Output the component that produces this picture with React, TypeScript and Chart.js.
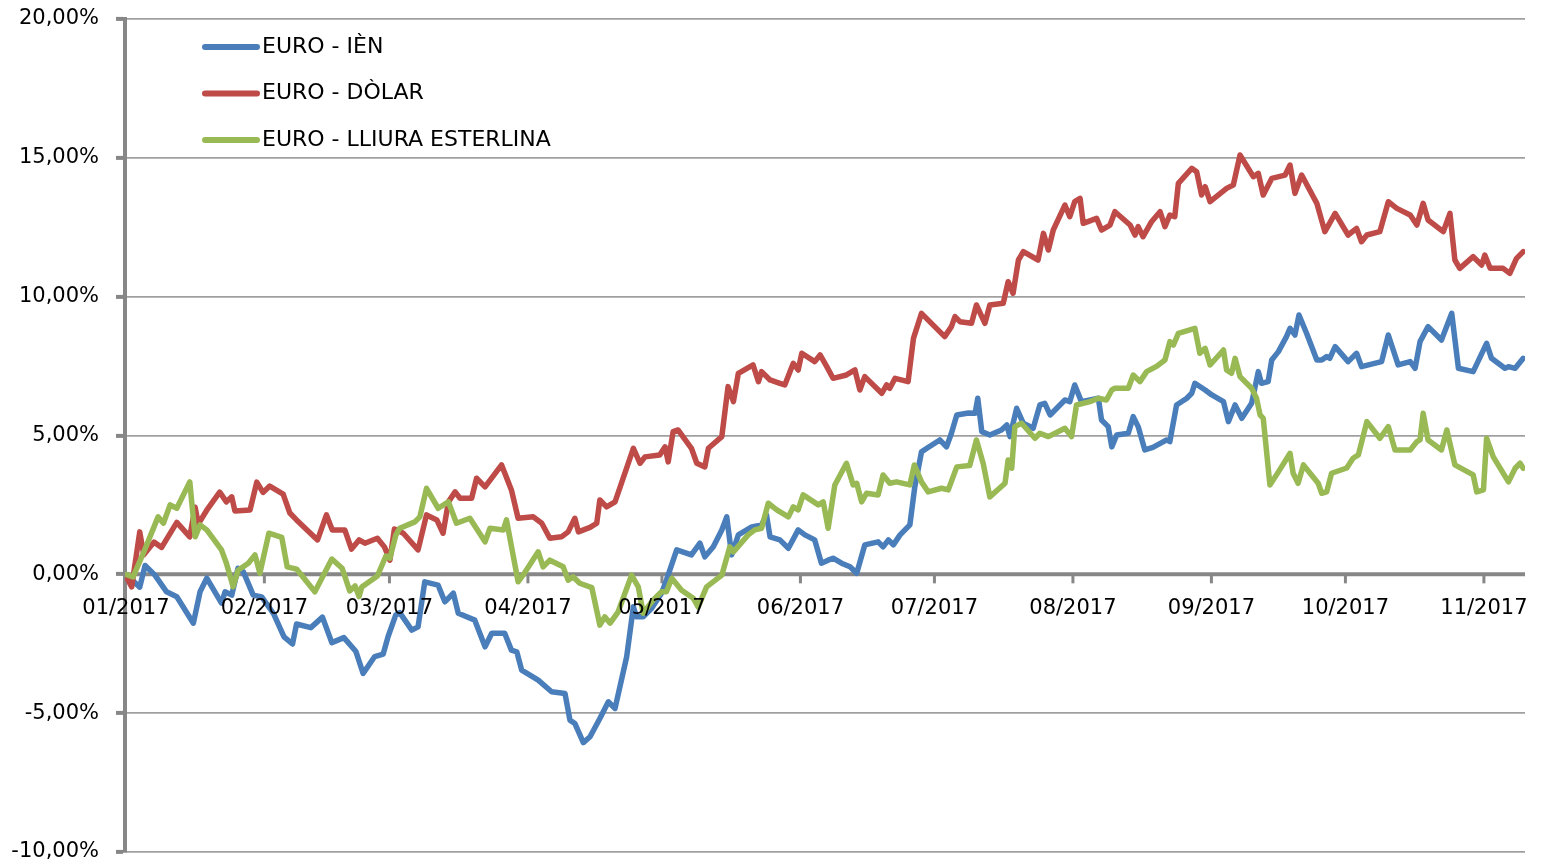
import { useEffect, useRef } from "react";
import { Chart, registerables } from "chart.js";

Chart.register(...registerables);

// Day of year 2017 (0 = 1 January) at each month start, and their labels
const monthStarts = [0, 31, 59, 90, 120, 151, 181, 212, 243, 273, 304];
const monthLabels = ["01/2017", "02/2017", "03/2017", "04/2017", "05/2017", "06/2017", "07/2017", "08/2017", "09/2017", "10/2017", "11/2017"];
const yTicks = [-10, -5, 0, 5, 10, 15, 20];

const seriesNames = ["EURO - IÈN", "EURO - DÒLAR", "EURO - LLIURA ESTERLINA"];
const seriesColors = ["#4a7ebb", "#be4b48", "#98b954"];

// EURO - IÈN (day of year, % change)
const yenDays = [
  0, 3.1, 4.3, 6.5, 9.1, 11.4, 15.1, 16.6, 18.1, 21.4,
  22.2, 23.7, 25.1, 26.3, 28.5, 30.4, 33.1, 35.4, 37.3, 38.2,
  41.4, 44.0, 46.1, 48.8, 51.5, 53.1, 55.7, 57.6, 58.7, 60.4,
  61.3, 64.0, 65.4, 66.9, 69.9, 71.4, 73.3, 74.4, 78.1, 80.4,
  81.9, 84.8, 86.3, 87.5, 88.6, 92.3, 95.3, 98.3, 99.4, 100.5,
  102.4, 103.9, 106.1, 108.0, 109.5, 112.1, 113.6, 114.3, 115.8, 117.7,
  119.9, 121.0, 123.3, 126.6, 128.5, 129.6, 131.5, 133.4, 134.5, 135.6,
  137.1, 140.1, 142.3, 143.4, 144.2, 146.4, 148.3, 150.5, 152.0, 154.2,
  155.7, 157.2, 158.3, 160.2, 162.1, 163.6, 165.4, 168.4, 169.5, 170.7,
  171.8, 173.3, 175.5, 176.6, 178.1, 179.3, 182.2, 183.7, 184.8, 186.0,
  188.6, 190.1, 190.7, 191.6, 193.4, 196.0, 197.2, 197.9, 199.4, 200.9,
  203.1, 204.6, 205.7, 206.9, 210.2, 211.3, 212.4, 213.9, 217.7, 218.4,
  219.9, 220.7, 221.8, 224.4, 225.5, 226.6, 228.1, 229.9, 233.0, 233.7,
  235.2, 237.5, 238.6, 239.3, 241.6, 243.1, 245.7, 246.8, 248.3, 249.8,
  252.0, 253.5, 254.2, 255.7, 256.5, 258.0, 259.8, 260.6, 261.7, 262.6,
  264.3, 266.6, 267.7, 268.8, 269.5, 270.7, 273.6, 275.5, 276.6, 281.1,
  282.6, 284.8, 287.5, 288.6, 289.7, 291.5, 294.5, 296.8, 298.3, 301.6,
  304.6, 305.7, 308.7, 309.5, 311.0, 312.8,
];
const yenValues = [
  0, -0.46, 0.32, -0.03, -0.63, -0.81, -1.76, -0.63, -0.14, -1.04,
  -0.63, -0.75, 0.22, 0.09, -0.75, -0.81, -1.43, -2.25, -2.51, -1.79,
  -1.92, -1.54, -2.46, -2.28, -2.78, -3.57, -2.96, -2.87, -2.24, -1.47,
  -1.38, -2.01, -1.89, -0.27, -0.39, -0.99, -0.68, -1.40, -1.65, -2.61,
  -2.12, -2.12, -2.73, -2.79, -3.45, -3.81, -4.23, -4.29, -5.25, -5.37,
  -6.06, -5.85, -5.19, -4.59, -4.83, -2.97, -1.17, -1.53, -1.53, -1.22,
  -0.68, -0.21, 0.88, 0.70, 1.12, 0.63, 0.99, 1.60, 2.07, 0.70,
  1.42, 1.71, 1.78, 2.14, 1.35, 1.24, 0.94, 1.60, 1.42, 1.24,
  0.40, 0.51, 0.58, 0.40, 0.27, 0.04, 1.06, 1.17, 0.99, 1.24,
  1.06, 1.42, 1.78, 3.15, 4.41, 4.54, 4.84, 4.59, 5.08, 5.74,
  5.81, 5.80, 6.34, 5.14, 5.02, 5.20, 5.38, 4.96, 5.98, 5.44,
  5.26, 6.10, 6.16, 5.74, 6.28, 6.22, 6.82, 6.22, 6.34, 5.56,
  5.32, 4.59, 5.02, 5.08, 5.68, 5.32, 4.48, 4.57, 4.84, 4.78,
  6.10, 6.34, 6.52, 6.88, 6.64, 6.46, 6.22, 5.50, 6.10, 5.62,
  6.16, 7.30, 6.88, 6.94, 7.72, 8.02, 8.56, 8.86, 8.62, 9.34,
  8.68, 7.72, 7.72, 7.84, 7.78, 8.20, 7.66, 7.96, 7.48, 7.66,
  8.62, 7.54, 7.66, 7.42, 8.38, 8.92, 8.44, 9.40, 7.42, 7.30,
  8.32, 7.78, 7.42, 7.48, 7.42, 7.78,
];

// EURO - DÒLAR
const usdDays = [
  0, 1.3, 3.1, 4.0, 6.3, 8.0, 11.4, 14.3, 15.5, 16.2,
  18.1, 21.0, 22.5, 23.7, 24.4, 27.8, 29.3, 30.7, 32.2, 35.2,
  36.7, 38.2, 42.9, 44.9, 46.2, 49.0, 50.5, 52.2, 53.5, 56.3,
  57.9, 59.1, 60.1, 62.1, 65.4, 67.3, 69.6, 71.0, 72.2, 73.7,
  74.8, 77.4, 78.5, 80.4, 84.1, 86.3, 87.8, 91.2, 93.1, 94.9,
  97.5, 99.0, 100.5, 101.3, 103.9, 105.4, 106.1, 107.6, 109.5, 113.6,
  115.1, 116.2, 119.5, 120.7, 121.4, 122.5, 123.6, 126.6, 127.8, 129.6,
  130.4, 133.4, 134.8, 136.0, 137.1, 140.4, 141.6, 142.3, 144.2, 146.4,
  147.5, 149.4, 150.5, 151.3, 154.2, 155.4, 156.9, 158.3, 161.3, 163.2,
  164.3, 165.4, 169.2, 170.3, 171.0, 172.2, 175.1, 176.3, 178.1, 183.3,
  184.8, 185.6, 186.7, 189.3, 190.4, 192.3, 193.4, 196.4, 197.5, 198.6,
  199.8, 200.9, 204.2, 205.4, 206.5, 207.6, 210.2, 211.3, 212.4, 213.6,
  214.3, 217.3, 218.4, 220.3, 221.4, 224.8, 225.9, 226.6, 227.7, 229.6,
  231.5, 232.6, 233.7, 234.8, 235.6, 238.6, 239.7, 240.8, 241.6, 242.7,
  246.4, 247.9, 249.4, 252.4, 253.5, 254.6, 256.5, 259.5, 260.6, 261.7,
  263.2, 266.6, 268.4, 270.7, 273.6, 275.5, 276.6, 277.8, 280.7, 282.6,
  284.5, 287.5, 289.0, 290.4, 291.5, 294.9, 296.4, 297.5, 298.6, 301.6,
  303.5, 304.2, 305.4, 308.3, 309.8, 311.3, 312.8,
];
const usdValues = [
  -0.06, -0.45, 1.53, 0.70, 1.16, 0.97, 1.87, 1.35, 2.42, 1.81,
  2.31, 2.96, 2.61, 2.79, 2.28, 2.32, 3.32, 2.95, 3.18, 2.89,
  2.21, 1.96, 1.24, 2.14, 1.60, 1.60, 0.91, 1.24, 1.12, 1.30,
  0.98, 0.51, 1.63, 1.48, 0.88, 2.14, 1.96, 1.48, 2.61, 2.97,
  2.74, 2.74, 3.46, 3.15, 3.94, 3.04, 2.02, 2.07, 1.84, 1.30,
  1.35, 1.53, 2.02, 1.53, 1.69, 1.84, 2.68, 2.43, 2.61, 4.54,
  4.00, 4.23, 4.30, 4.59, 4.05, 5.14, 5.20, 4.54, 4.00, 3.87,
  4.54, 4.96, 6.76, 6.22, 7.24, 7.54, 6.94, 7.30, 7.00, 6.88,
  6.82, 7.60, 7.36, 7.96, 7.66, 7.90, 7.48, 7.06, 7.18, 7.36,
  6.64, 7.12, 6.52, 6.82, 6.70, 7.06, 6.94, 8.50, 9.40, 8.56,
  8.92, 9.28, 9.10, 9.04, 9.70, 9.04, 9.70, 9.76, 10.54, 10.12,
  11.32, 11.62, 11.32, 12.28, 11.68, 12.40, 13.30, 12.88, 13.42, 13.54,
  12.64, 12.82, 12.40, 12.58, 13.06, 12.58, 12.22, 12.52, 12.16, 12.70,
  13.06, 12.52, 12.94, 12.88, 14.08, 14.62, 14.50, 13.66, 13.96, 13.42,
  13.90, 14.02, 15.10, 14.32, 14.44, 13.66, 14.26, 14.38, 14.74, 13.72,
  14.38, 13.36, 12.34, 13.00, 12.22, 12.46, 11.98, 12.22, 12.34, 13.42,
  13.18, 12.94, 12.58, 13.36, 12.76, 12.34, 13.00, 11.32, 11.02, 11.44,
  11.14, 11.50, 11.02, 11.02, 10.84, 11.38, 11.62,
];

// EURO - LLIURA ESTERLINA
const gbpDays = [
  0, 1.6, 3.9, 7.2, 8.4, 9.9, 11.4, 14.3, 15.5, 16.6,
  18.1, 21.4, 22.5, 24.0, 25.1, 27.4, 28.9, 30.0, 32.0, 34.9,
  36.1, 38.2, 42.3, 46.1, 48.4, 50.1, 51.3, 52.2, 52.8, 56.3,
  58.2, 59.1, 60.4, 61.3, 64.7, 65.8, 67.3, 69.9, 72.2, 74.0,
  77.0, 80.4, 81.5, 84.5, 85.2, 87.8, 88.9, 92.3, 93.4, 94.9,
  97.9, 99.0, 100.1, 101.6, 104.3, 106.1, 107.2, 108.4, 110.2, 113.2,
  114.7, 115.8, 118.0, 119.9, 121.0, 122.2, 124.4, 127.0, 128.1, 130.0,
  133.4, 135.2, 136.0, 139.3, 140.8, 142.3, 143.8, 145.7, 148.3, 149.4,
  150.5, 151.6, 155.0, 156.1, 157.2, 158.7, 161.3, 162.8, 163.6, 164.7,
  165.8, 168.4, 169.5, 171.0, 172.5, 175.5, 176.5, 178.1, 179.6, 182.6,
  184.1, 186.0, 188.9, 190.4, 191.9, 193.4, 196.8, 197.5, 198.3, 199.0,
  200.5, 203.5, 204.6, 206.5, 210.2, 211.7, 212.8, 215.8, 217.7, 219.5,
  220.7, 221.4, 224.4, 225.5, 227.0, 228.5, 230.8, 232.6, 233.7, 234.5,
  235.6, 239.3, 240.4, 241.6, 242.7, 245.7, 246.4, 247.5, 248.3, 249.4,
  252.0, 253.1, 253.9, 254.6, 256.1, 258.0, 260.6, 261.3, 262.4, 263.6,
  266.9, 267.7, 268.8, 269.9, 273.3, 274.7, 275.9, 277.8, 280.7, 282.6,
  284.1, 287.5, 289.0, 289.7, 290.4, 291.5, 294.5, 295.7, 297.5, 301.6,
  302.4, 303.9, 304.6, 306.1, 309.5, 311.0, 312.1, 312.8,
];
const gbpValues = [
  0, -0.09, 0.76, 2.07, 1.84, 2.50, 2.38, 3.33, 1.35, 1.78,
  1.60, 0.88, 0.40, -0.45, 0.15, 0.40, 0.70, 0.04, 1.48, 1.33,
  0.27, 0.19, -0.63, 0.55, 0.22, -0.60, -0.42, -0.80, -0.46, -0.06,
  0.66, 0.58, 1.40, 1.66, 1.89, 2.07, 3.10, 2.38, 2.61, 1.84,
  2.02, 1.17, 1.66, 1.60, 1.96, -0.27, -0.03, 0.81, 0.27, 0.51,
  0.27, -0.21, -0.09, -0.32, -0.48, -1.83, -1.53, -1.76, -1.35, -0.03,
  -0.45, -1.40, -0.93, -0.63, -0.63, -0.14, -0.57, -0.86, -1.17, -0.45,
  -0.03, 0.99, 0.81, 1.42, 1.60, 1.66, 2.56, 2.32, 2.07, 2.43,
  2.32, 2.86, 2.50, 2.61, 1.66, 3.22, 4.00, 3.22, 3.28, 2.61,
  2.92, 2.86, 3.58, 3.28, 3.33, 3.22, 3.94, 3.33, 2.97, 3.10,
  3.04, 3.87, 3.92, 4.84, 4.00, 2.79, 3.28, 4.12, 3.82, 5.32,
  5.44, 4.90, 5.08, 4.96, 5.26, 4.96, 6.10, 6.22, 6.34, 6.28,
  6.64, 6.70, 6.70, 7.18, 6.94, 7.30, 7.50, 7.72, 8.38, 8.26,
  8.68, 8.86, 7.96, 8.14, 7.54, 8.08, 7.36, 7.24, 7.78, 7.12,
  6.70, 6.34, 5.74, 5.62, 3.22, 3.69, 4.36, 3.64, 3.28, 3.94,
  3.28, 2.92, 2.97, 3.64, 3.83, 4.18, 4.30, 5.50, 4.90, 5.32,
  4.48, 4.48, 4.78, 4.84, 5.80, 4.84, 4.48, 5.20, 3.94, 3.58,
  2.97, 3.04, 4.90, 4.23, 3.33, 3.82, 4.00, 3.82,
];

const FONT = "'DejaVu Sans', sans-serif";
const AXIS_GRAY = "#878787";
const GRID_GRAY = "#a0a0a0";

function toPoints(days: number[], values: number[]) {
  return days.map((d, i) => ({ x: d, y: values[i] }));
}

function formatPct(v: number) {
  return v.toFixed(2).replace(".", ",") + "%";
}

export default function App() {
  const canvasRef = useRef<HTMLCanvasElement | null>(null);

  useEffect(() => {
    const canvas = canvasRef.current;
    if (!canvas) return;

    const axisPlugin = {
      id: "zeroAxis",
      beforeDatasetsDraw(chart: any) {
        const { ctx, chartArea, scales } = chart;
        const xs = scales.x;
        const ys = scales.y;
        const y0 = ys.getPixelForValue(0);
        ctx.save();
        ctx.strokeStyle = AXIS_GRAY;
        ctx.lineWidth = 4;
        ctx.beginPath();
        ctx.moveTo(chartArea.left, y0);
        ctx.lineTo(chartArea.right, y0);
        ctx.stroke();
        ctx.lineWidth = 3;
        monthStarts.forEach((d) => {
          const x = xs.getPixelForValue(d);
          ctx.beginPath();
          ctx.moveTo(x, y0);
          ctx.lineTo(x, y0 + 9);
          ctx.stroke();
        });
        ctx.restore();
      },
      afterDatasetsDraw(chart: any) {
        const { ctx, scales } = chart;
        const xs = scales.x;
        const ys = scales.y;
        const y0 = ys.getPixelForValue(0);
        ctx.save();
        ctx.fillStyle = "#000";
        ctx.font = `21px ${FONT}`;
        ctx.textBaseline = "middle";
        // month labels under the zero line
        ctx.textAlign = "center";
        monthStarts.forEach((d, i) => {
          ctx.fillText(monthLabels[i], xs.getPixelForValue(d), y0 + 34);
        });
        // value labels left of the vertical axis
        ctx.textAlign = "right";
        yTicks.forEach((v) => {
          ctx.fillText(formatPct(v), ys.left + ys.width - 26, ys.getPixelForValue(v));
        });
        ctx.restore();
      },
      afterDraw(chart: any) {
        const { ctx } = chart;
        ctx.save();
        ctx.font = `22px ${FONT}`;
        ctx.textBaseline = "middle";
        ctx.textAlign = "left";
        seriesNames.forEach((name, i) => {
          const y = 47 + i * 46.5;
          ctx.strokeStyle = seriesColors[i];
          ctx.lineWidth = 6;
          ctx.lineCap = "round";
          ctx.beginPath();
          ctx.moveTo(205, y);
          ctx.lineTo(257, y);
          ctx.stroke();
          ctx.fillStyle = "#000";
          ctx.fillText(name, 262, y);
        });
        ctx.restore();
      },
    };

    const common = {
      pointRadius: 0,
      borderWidth: 5.5,
      borderJoinStyle: "round" as const,
      borderCapStyle: "round" as const,
      tension: 0,
      fill: false,
    };

    const chart = new Chart(canvas, {
      type: "line",
      data: {
        datasets: [
          { ...common, label: seriesNames[0], data: toPoints(yenDays, yenValues), borderColor: seriesColors[0], order: 2 },
          { ...common, label: seriesNames[1], data: toPoints(usdDays, usdValues), borderColor: seriesColors[1], order: 1 },
          { ...common, label: seriesNames[2], data: toPoints(gbpDays, gbpValues), borderColor: seriesColors[2], order: 0 },
        ],
      },
      options: {
        animation: false,
        responsive: false,
        devicePixelRatio: 1,
        layout: { padding: { top: 19, right: 24, bottom: 12, left: 0 } },
        plugins: { legend: { display: false }, tooltip: { enabled: false } },
        scales: {
          x: { type: "linear", min: -0.2, max: 313.2, display: false },
          y: {
            type: "linear",
            min: -10,
            max: 20,
            afterBuildTicks: (scale: any) => {
              scale.ticks = yTicks.map((v) => ({ value: v }));
            },
            afterFit: (scale: any) => {
              scale.width = 125;
            },
            ticks: { display: false },
            grid: {
              color: GRID_GRAY,
              lineWidth: 1.8,
              drawTicks: true,
              tickLength: 9,
              tickColor: AXIS_GRAY,
              tickWidth: 4,
            },
            border: { display: true, color: AXIS_GRAY, width: 4 },
          },
        },
      },
      plugins: [axisPlugin],
    } as any);

    return () => chart.destroy();
  }, []);

  return (
    <div style={{ position: "absolute", left: 0, top: 0, width: 1549, height: 864, background: "#fff" }}>
      <canvas ref={canvasRef} width={1549} height={864} style={{ display: "block", width: 1549, height: 864 }} />
    </div>
  );
}
